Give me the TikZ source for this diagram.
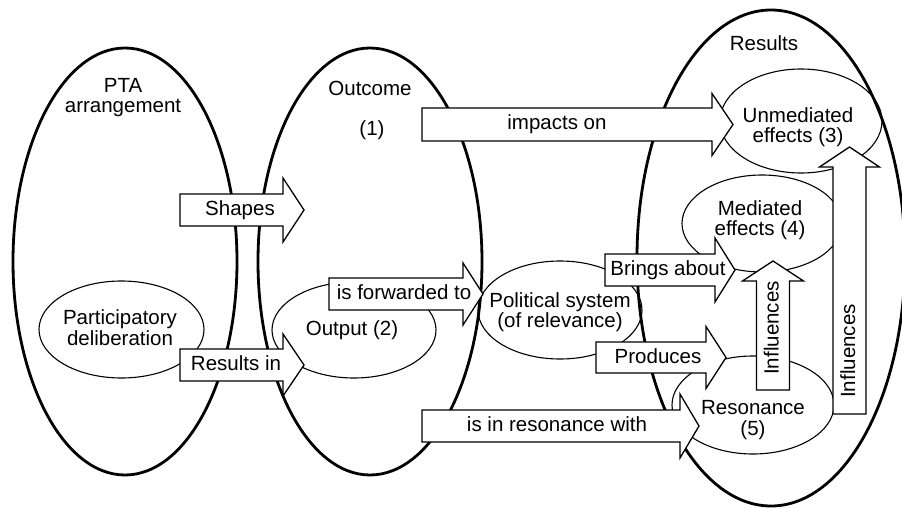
\documentclass[tikz,border=0pt]{standalone}
\usepackage{fontspec}
\setmainfont{Liberation Sans}
\usetikzlibrary{shapes.geometric}

% block arrow pointing right: name, start x, head base x, tip x, centre y,
% shaft half width, head half width, label x, label text
\newcommand\rblock[9]{%
  \draw[barrow] ({#2},{#5-#6}) -- ({#3},{#5-#6}) -- ({#3},{#5-#7}) -- ({#4},{#5})
    -- ({#3},{#5+#7}) -- ({#3},{#5+#6}) -- ({#2},{#5+#6}) -- cycle;
  \node[lbl] (#1) at ({#8},{#5}) {#9};
}
% block arrow pointing up: name, centre x, bottom y, head base y, tip y,
% shaft half width, head half width, label y, label text
\newcommand\ublock[9]{%
  \draw[barrow] ({#2-#6},{#3}) -- ({#2-#6},{#4}) -- ({#2-#7},{#4}) -- ({#2},{#5})
    -- ({#2+#7},{#4}) -- ({#2+#6},{#4}) -- ({#2+#6},{#3}) -- cycle;
  \node[lbl, rotate=90] (#1) at ({#2},{#8}) {#9};
}

\begin{document}
\begin{tikzpicture}[x=1pt, y=-1pt,
  big/.style={draw, ellipse, line width=2.8pt, inner sep=0pt},
  small/.style={draw, ellipse, line width=1.1pt, inner sep=0pt},
  barrow/.style={draw, fill=white, line width=1.3pt, line join=miter},
  lbl/.style={font=\fontsize{20.5}{20.5}\selectfont, align=center, inner sep=0pt,
              text height=15pt, text depth=4pt},
  lbl2/.style={font=\fontsize{20.5}{20.5}\selectfont, align=center, inner sep=0pt},
]
\useasboundingbox (0,0) rectangle (902,508);

% the three stages
\node[big, minimum width=224pt, minimum height=427pt] (pta) at (125,261.5) {};
\node[big, minimum width=224pt, minimum height=427pt] (outcome) at (370,261.5) {};
\node[big, minimum width=268pt, minimum height=496pt] (results) at (771,258) {};

\node[lbl2] (ptalbl) at (123,97.5) {PTA\\arrangement};
\node[lbl2] (outlbl) at (370,88) {Outcome};
\node[lbl2] (onelbl) at (372,130) {(1)};
\node[lbl2] (reslbl) at (764,43) {Results};

% inner elements
\node[small, minimum width=165pt, minimum height=97pt] (delib) at (121.5,329.5) {};
\node[small, minimum width=164pt, minimum height=96pt] (output) at (354,330) {};
\node[small, minimum width=164pt, minimum height=98pt] (polsys) at (560,310) {};
\node[small, minimum width=162pt, minimum height=104pt] (unmed) at (801,121) {};
\node[small, minimum width=160pt, minimum height=97pt] (med) at (762,223.5) {};
\node[small, minimum width=162pt, minimum height=98pt] (reson) at (753,405) {};

% arrows between them
\rblock{shapes}{180}{283}{304}{210}{16}{32}{240}{Shapes}
\rblock{resin}{180}{283}{304}{365}{16}{31}{236}{Results in}
\rblock{impacts}{422}{712}{733}{124.5}{16.5}{31}{557}{impacts on}
\rblock{forward}{329}{463}{483}{294}{16}{31}{404}{is forwarded to}
\rblock{brings}{605}{715}{735}{270}{16}{32}{668}{Brings about}
\rblock{produces}{596}{706}{726}{357.5}{15.5}{31}{658}{Produces}
\rblock{inres}{422}{680}{699}{426}{16}{32}{557}{is in resonance with}
\ublock{inflA}{773}{390}{281}{261}{16.5}{30.5}{328}{Influences}
\ublock{inflB}{849.5}{414}{167}{147}{16.5}{30}{351}{Influences}

% texts of the inner elements
\node[lbl2] (delibtxt) at (120,327.5) {Participatory\\deliberation};
\node[lbl2] (outputtxt) at (352,330) {Output (2)};
\node[lbl2] (polsystxt) at (560,312) {Political system\\(of relevance)};
\node[lbl2] (unmedtxt) at (798,127) {Unmediated\\effects (3)};
\node[lbl2] (medtxt) at (760,220) {Mediated\\effects (4)};
\node[lbl2] (resontxt) at (753,420) {Resonance\\(5)};
\end{tikzpicture}
\end{document}
